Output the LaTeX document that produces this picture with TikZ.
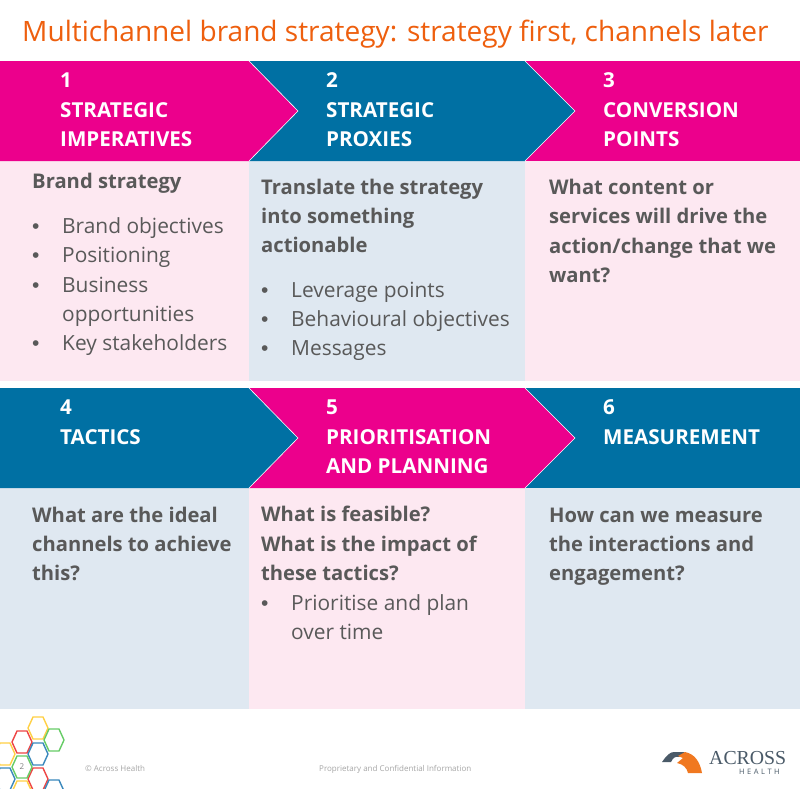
\documentclass[tikz,border=0pt]{standalone}
\usepackage{fontspec}
\setmainfont{Open Sans}
\newfontfamily\bulfont{Liberation Sans}
\newfontfamily\logofont{Liberation Serif}
\definecolor{mag}{HTML}{EC008C}
\definecolor{tealb}{HTML}{0070A3}
\definecolor{pinkl}{HTML}{FDE8F1}
\definecolor{bluel}{HTML}{DFE8F1}
\definecolor{ttl}{HTML}{EE5F0E}
\definecolor{gtxt}{HTML}{595959}
\definecolor{hy}{HTML}{FFD044}
\definecolor{hg}{HTML}{66CC66}
\definecolor{hr}{HTML}{EE4444}
\definecolor{hb}{HTML}{3A88BC}
\definecolor{logod}{HTML}{4A5A68}
\definecolor{logoo}{HTML}{F07820}
\begin{document}
\begin{tikzpicture}[x=1pt,y=-1pt,
  hd/.style={anchor=base west,inner sep=0pt,text=white,font=\fontsize{20.6}{20}\selectfont\bfseries},
  bb/.style={anchor=base west,inner sep=0pt,text=gtxt,font=\fontsize{20.2}{20}\selectfont\bfseries},
  bt/.style={anchor=base west,inner sep=0pt,text=gtxt,font=\fontsize{20.9}{20}\selectfont},
  bl/.style={anchor=base west,inner sep=0pt,text=gtxt,font=\fontsize{21}{20}\selectfont\bulfont},
  ft/.style={anchor=base west,inner sep=0pt,text=gray!70,font=\fontsize{8}{8}\selectfont},
  hex/.style={line width=1.4pt,line join=round}]
\useasboundingbox (0,0) rectangle (800,788);
\fill[white] (0,0) rectangle (800,788);
\node[anchor=base west,inner sep=0pt,text=ttl,font=\fontsize{28.05}{28}\selectfont] (title) at (22,41) {Multichannel brand strategy: strategy first, channels later};
% panels
\fill[pinkl] (0,161) rectangle (249,381);
\fill[bluel] (249,161) rectangle (525,381);
\fill[pinkl] (525,161) rectangle (800,381);
\fill[bluel] (0,488) rectangle (249,709);
\fill[pinkl] (249,488) rectangle (525,709);
\fill[bluel] (525,488) rectangle (800,709);
% top band
\fill[mag] (525,61) rectangle (800,161);
\fill[tealb] (249,61) -- (525,61) -- (575,111) -- (525,161) -- (249,161) -- cycle;
\fill[mag] (0,61) -- (249,61) -- (298,111) -- (249,161) -- (0,161) -- cycle;
\draw[white,line width=.6pt] (249,61) -- (298,111) -- (249,161);
\draw[white,line width=.6pt] (525,61) -- (575,111) -- (525,161);
% bottom band
\fill[tealb] (525,388) rectangle (800,488);
\fill[mag] (249,388) -- (525,388) -- (575,438) -- (525,488) -- (249,488) -- cycle;
\fill[tealb] (0,388) -- (249,388) -- (298,438) -- (249,488) -- (0,488) -- cycle;
\draw[white,line width=.6pt] (249,388) -- (298,438) -- (249,488);
\draw[white,line width=.6pt] (525,388) -- (575,438) -- (525,488);
% headers
\node[hd] (h1a) at (60,87) {1};
\node[hd] (h1b) at (60,117) {STRATEGIC};
\node[hd] (h1c) at (60,146) {IMPERATIVES};
\node[hd] (h2a) at (326,87) {2};
\node[hd] (h2b) at (326,117) {STRATEGIC};
\node[hd] (h2c) at (326,146) {PROXIES};
\node[hd] (h3a) at (603,87) {3};
\node[hd] (h3b) at (603,117) {CONVERSION};
\node[hd] (h3c) at (603,146) {POINTS};
\node[hd] (h4a) at (60,414) {4};
\node[hd] (h4b) at (60,444) {TACTICS};
\node[hd] (h5a) at (326,414) {5};
\node[hd] (h5b) at (326,444) {PRIORITISATION};
\node[hd] (h5c) at (326,473) {AND PLANNING};
\node[hd] (h6a) at (603,414) {6};
\node[hd] (h6b) at (603,444) {MEASUREMENT};
% col1
\node[bb] (a1) at (32,188) {Brand strategy};
\node[bl] (a2d) at (32,233) {•}; \node[bt] (a2) at (62,233) {Brand objectives};
\node[bl] (a3d) at (32,262) {•}; \node[bt] (a3) at (62,262) {Positioning};
\node[bl] (a4d) at (32,292) {•}; \node[bt] (a4) at (62,292) {Business};
\node[bt] (a5) at (62,321) {opportunities};
\node[bl] (a6d) at (32,350) {•}; \node[bt] (a6) at (62,350) {Key stakeholders};
% col2
\node[bb] (b1) at (261,194) {Translate the strategy};
\node[bb] (b2) at (261,223) {into something};
\node[bb] (b3) at (261,252) {actionable};
\node[bl] (b4d) at (261,297) {•}; \node[bt] (b4) at (291,297) {Leverage points};
\node[bl] (b5d) at (261,326) {•}; \node[bt] (b5) at (291,326) {Behavioural objectives};
\node[bl] (b6d) at (261,355) {•}; \node[bt] (b6) at (291,355) {Messages};
% col3
\node[bb] (c1) at (549,194) {What content or};
\node[bb] (c2) at (549,223) {services will drive the};
\node[bb] (c3) at (549,253) {action/change that we};
\node[bb] (c4) at (549,282) {want?};
% row2
\node[bb] (d1) at (32,522) {What are the ideal};
\node[bb] (d2) at (32,551) {channels to achieve};
\node[bb] (d3) at (32,580) {this?};
\node[bb] (e1) at (261,521) {What is feasible?};
\node[bb] (e2) at (261,551) {What is the impact of};
\node[bb] (e3) at (261,580) {these tactics?};
\node[bl] (e4d) at (261,610) {•}; \node[bt] (e4) at (291,610) {Prioritise and plan};
\node[bt] (e5) at (291,639) {over time};
\node[bb] (f1) at (549,522) {How can we measure};
\node[bb] (f2) at (549,551) {the interactions and};
\node[bb] (f3) at (549,580) {engagement?};
% footer
\node[ft] (fa) at (85,771) {© Across Health};
\node[ft] (fb) at (319,771) {Proprietary and Confidential Information};
% hexagons (clipped to the page)
\newcommand{\hexa}[3]{\draw[hex,#3] (#1-10,#2) -- (#1-5,#2-11) -- (#1+5,#2-11) -- (#1+10,#2) -- (#1+5,#2+11) -- (#1-5,#2+11) -- cycle;}
\begin{scope}
\clip (0,710) rectangle (800,788);
\hexa{38}{728}{hy}
\hexa{54}{740}{hg}
\hexa{22}{742}{hr}
\hexa{38}{754}{hb}
\hexa{5}{754}{hy}
\hexa{38}{779}{hr}
\hexa{54}{791}{hb}
\hexa{5}{779}{hb}
\hexa{22}{792}{hy}
\hexa{22}{767}{hg}
\end{scope}
\node[anchor=center,inner sep=0pt,text=gray,font=\fontsize{8}{8}\selectfont] (pg) at (22,767) {2};
% logo
\fill[logod] (662,762) .. controls (667,755) and (670,752) .. (674,752) -- (685,752) -- (679,757) .. controls (675,756) and (673,758) .. (671,762) -- cycle;
\fill[logoo] (685,752) .. controls (695,754) and (700,762) .. (702,773) -- (688,773) .. controls (687,768) and (683,764) .. (677,763) -- (683,758) -- (678,756) -- cycle;
\node[anchor=base west,inner sep=0pt,text=logod,font=\fontsize{19.8}{20}\selectfont\logofont] (lg1) at (709,764) {ACROSS};
\node[anchor=base west,inner sep=0pt,text=logod,font=\fontsize{7.5}{8}\selectfont] (lg2) at (739,774) {H\,\,E\,\,A\,\,L\,\,T\,\,H};
\end{tikzpicture}
\end{document}
